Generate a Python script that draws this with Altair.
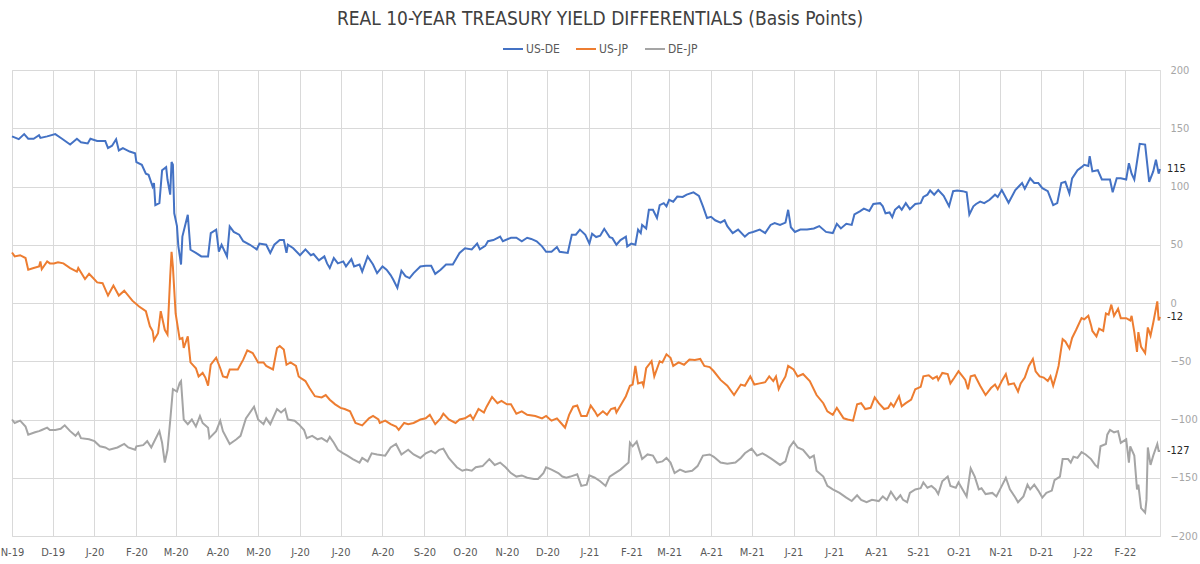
import altair as alt
import pandas as pd

SERIES = ["US-DE", "US-JP", "DE-JP"]
COLORS = ["#4472C4", "#ED7D31", "#A5A5A5"]
TITLE = "REAL 10-YEAR TREASURY YIELD DIFFERENTIALS (Basis Points)"
Y_TICKS = [-200, -150, -100, -50, 0, 50, 100, 150, 200]

US_DE = [
    ("2019-11-01", 143), ("2019-11-06", 140.6), ("2019-11-10", 145), ("2019-11-13", 141),
    ("2019-11-17", 141), ("2019-11-21", 144), ("2019-11-22", 141.7), ("2019-11-27", 143),
    ("2019-12-03", 145), ("2019-12-08", 141), ("2019-12-14", 136), ("2019-12-19", 141),
    ("2019-12-22", 138), ("2019-12-27", 137), ("2019-12-29", 141), ("2020-01-03", 139),
    ("2020-01-09", 139), ("2020-01-11", 133), ("2020-01-14", 135), ("2020-01-17", 140.6),
    ("2020-01-19", 131), ("2020-01-22", 133), ("2020-01-27", 130), ("2020-01-31", 128.6),
    ("2020-02-01", 121), ("2020-02-05", 118.6), ("2020-02-08", 111), ("2020-02-10", 110),
    ("2020-02-13", 100), ("2020-02-14", 103), ("2020-02-15", 84), ("2020-02-18", 85.7),
    ("2020-02-20", 114), ("2020-02-23", 116.6), ("2020-02-24", 106), ("2020-02-26", 93),
    ("2020-02-27", 121), ("2020-02-28", 118.6), ("2020-02-29", 77), ("2020-03-02", 66),
    ("2020-03-03", 49), ("2020-03-05", 33), ("2020-03-06", 57), ("2020-03-10", 75.7),
    ("2020-03-12", 45.7), ("2020-03-16", 43), ("2020-03-20", 40), ("2020-03-25", 40),
    ("2020-03-27", 60), ("2020-03-31", 63), ("2020-04-02", 44), ("2020-04-04", 50),
    ("2020-04-08", 40), ("2020-04-10", 65.7), ("2020-04-13", 61), ("2020-04-17", 58.6),
    ("2020-04-20", 53), ("2020-04-25", 50), ("2020-04-30", 46), ("2020-05-02", 51),
    ("2020-05-07", 50), ("2020-05-10", 43), ("2020-05-13", 50), ("2020-05-17", 54),
    ("2020-05-20", 54), ("2020-05-22", 43), ("2020-05-23", 50), ("2020-05-27", 47),
    ("2020-06-01", 41), ("2020-06-05", 46), ("2020-06-09", 41), ("2020-06-11", 42),
    ("2020-06-15", 36.6), ("2020-06-19", 40), ("2020-06-21", 34), ("2020-06-23", 30),
    ("2020-06-26", 38.6), ("2020-06-29", 34), ("2020-07-03", 35.7), ("2020-07-05", 31.4),
    ("2020-07-09", 37.7), ("2020-07-11", 31.4), ("2020-07-15", 33), ("2020-07-17", 27),
    ("2020-07-21", 40), ("2020-07-25", 33), ("2020-07-28", 25.7), ("2020-08-01", 31.4),
    ("2020-08-04", 28.6), ("2020-08-07", 24), ("2020-08-09", 20), ("2020-08-12", 13),
    ("2020-08-15", 27.7), ("2020-08-18", 23), ("2020-08-21", 21.4), ("2020-08-24", 25.7),
    ("2020-08-29", 31.4), ("2020-09-02", 32), ("2020-09-06", 32), ("2020-09-09", 25),
    ("2020-09-13", 28.6), ("2020-09-17", 33), ("2020-09-22", 33), ("2020-09-27", 43),
    ("2020-10-01", 47), ("2020-10-06", 46), ("2020-10-10", 51), ("2020-10-12", 46),
    ("2020-10-16", 49), ("2020-10-18", 53), ("2020-10-22", 54), ("2020-10-27", 57),
    ("2020-10-29", 53), ("2020-11-04", 56), ("2020-11-08", 56), ("2020-11-12", 53),
    ("2020-11-16", 56), ("2020-11-19", 55), ("2020-11-23", 53), ("2020-11-27", 48.6),
    ("2020-11-30", 44), ("2020-12-04", 44), ("2020-12-08", 48), ("2020-12-10", 44),
    ("2020-12-16", 43), ("2020-12-19", 58.6), ("2020-12-22", 58.6), ("2020-12-25", 63),
    ("2020-12-29", 58.6), ("2021-01-01", 51), ("2021-01-03", 59.4), ("2021-01-06", 56.6),
    ("2021-01-09", 57.7), ("2021-01-12", 63.7), ("2021-01-16", 56.6), ("2021-01-18", 55.7),
    ("2021-01-21", 50), ("2021-01-24", 54), ("2021-01-28", 57), ("2021-01-29", 48.6),
    ("2021-02-01", 51), ("2021-02-04", 50), ("2021-02-06", 63), ("2021-02-08", 60),
    ("2021-02-09", 67), ("2021-02-12", 64), ("2021-02-14", 80), ("2021-02-17", 80),
    ("2021-02-20", 73), ("2021-02-22", 84), ("2021-02-25", 85.7), ("2021-02-27", 83),
    ("2021-03-01", 88.6), ("2021-03-04", 87), ("2021-03-07", 91.4), ("2021-03-11", 91),
    ("2021-03-14", 93), ("2021-03-19", 95), ("2021-03-23", 92), ("2021-03-26", 83),
    ("2021-03-29", 73), ("2021-04-01", 74), ("2021-04-04", 71), ("2021-04-08", 69),
    ("2021-04-11", 71), ("2021-04-13", 66), ("2021-04-17", 60), ("2021-04-21", 63),
    ("2021-04-26", 57), ("2021-04-29", 60), ("2021-05-02", 61), ("2021-05-07", 63),
    ("2021-05-11", 60), ("2021-05-15", 67), ("2021-05-18", 68.6), ("2021-05-22", 67),
    ("2021-05-26", 69), ("2021-05-28", 80), ("2021-05-30", 65), ("2021-06-02", 61),
    ("2021-06-06", 63), ("2021-06-11", 63), ("2021-06-16", 64), ("2021-06-20", 66),
    ("2021-06-25", 61), ("2021-06-30", 60), ("2021-07-03", 68), ("2021-07-06", 64),
    ("2021-07-10", 68), ("2021-07-14", 67), ("2021-07-16", 76), ("2021-07-20", 78.6),
    ("2021-07-23", 81), ("2021-07-27", 79), ("2021-07-30", 85), ("2021-08-04", 85.7),
    ("2021-08-06", 83), ("2021-08-08", 77), ("2021-08-11", 77.7), ("2021-08-13", 73.7),
    ("2021-08-15", 80), ("2021-08-18", 83), ("2021-08-20", 80), ("2021-08-23", 85.7),
    ("2021-08-26", 80.6), ("2021-08-30", 85), ("2021-09-03", 85.7), ("2021-09-05", 91),
    ("2021-09-08", 93), ("2021-09-10", 96.6), ("2021-09-13", 93), ("2021-09-16", 97),
    ("2021-09-20", 92), ("2021-09-24", 83), ("2021-09-27", 96), ("2021-09-30", 96.6),
    ("2021-10-04", 96), ("2021-10-07", 95), ("2021-10-09", 76), ("2021-10-12", 83),
    ("2021-10-14", 85), ("2021-10-17", 87), ("2021-10-20", 85.7), ("2021-10-24", 88.6),
    ("2021-10-28", 93), ("2021-10-30", 91), ("2021-11-02", 97), ("2021-11-07", 86),
    ("2021-11-12", 97), ("2021-11-14", 99.4), ("2021-11-17", 103), ("2021-11-19", 98),
    ("2021-11-23", 107), ("2021-11-26", 103), ("2021-11-29", 103), ("2021-12-02", 98.6),
    ("2021-12-06", 96), ("2021-12-10", 84), ("2021-12-13", 85.7), ("2021-12-16", 103),
    ("2021-12-19", 104), ("2021-12-22", 94), ("2021-12-24", 107), ("2021-12-28", 114),
    ("2021-12-31", 116.6), ("2022-01-02", 118.6), ("2022-01-05", 117.7), ("2022-01-06", 126),
    ("2022-01-08", 113), ("2022-01-12", 114), ("2022-01-15", 106), ("2022-01-18", 106),
    ("2022-01-21", 106), ("2022-01-23", 95), ("2022-01-26", 107), ("2022-01-29", 107),
    ("2022-02-02", 106), ("2022-02-04", 120), ("2022-02-06", 111), ("2022-02-08", 106),
    ("2022-02-12", 136.6), ("2022-02-16", 136), ("2022-02-19", 104), ("2022-02-22", 113),
    ("2022-02-24", 123), ("2022-02-26", 111), ("2022-02-27", 115),
]

US_JP = [
    ("2019-11-01", 43.4), ("2019-11-03", 40), ("2019-11-07", 41), ("2019-11-11", 38.6),
    ("2019-11-13", 28.6), ("2019-11-17", 30), ("2019-11-21", 31.4), ("2019-11-22", 35.7),
    ("2019-11-23", 29), ("2019-11-27", 35.7), ("2019-11-29", 34), ("2019-12-02", 34),
    ("2019-12-05", 35), ("2019-12-09", 34), ("2019-12-14", 30), ("2019-12-19", 27),
    ("2019-12-20", 30), ("2019-12-25", 20.6), ("2019-12-28", 25), ("2019-12-31", 21.4),
    ("2020-01-03", 17.7), ("2020-01-07", 17), ("2020-01-11", 6.4), ("2020-01-15", 15),
    ("2020-01-19", 6.4), ("2020-01-23", 10.6), ("2020-01-29", 2), ("2020-02-03", -3),
    ("2020-02-08", -7), ("2020-02-11", -20), ("2020-02-13", -24), ("2020-02-14", -32),
    ("2020-02-17", -26), ("2020-02-19", -7), ("2020-02-22", -23), ("2020-02-24", -27),
    ("2020-02-26", 23), ("2020-02-27", 44), ("2020-02-28", 31), ("2020-03-01", -9),
    ("2020-03-04", -31), ("2020-03-06", -30), ("2020-03-07", -38.6), ("2020-03-10", -28.6),
    ("2020-03-12", -51), ("2020-03-16", -56), ("2020-03-18", -63), ("2020-03-21", -60),
    ("2020-03-23", -64), ("2020-03-25", -71), ("2020-03-27", -53), ("2020-03-31", -47),
    ("2020-04-03", -56), ("2020-04-05", -63), ("2020-04-08", -64), ("2020-04-10", -57),
    ("2020-04-16", -57), ("2020-04-20", -48.6), ("2020-04-23", -40.6), ("2020-04-27", -43),
    ("2020-05-01", -51), ("2020-05-05", -51), ("2020-05-07", -54), ("2020-05-12", -57),
    ("2020-05-15", -38.6), ("2020-05-17", -37), ("2020-05-20", -40), ("2020-05-22", -53),
    ("2020-05-25", -51), ("2020-05-29", -54), ("2020-05-31", -63), ("2020-06-01", -64),
    ("2020-06-05", -67), ("2020-06-08", -73), ("2020-06-12", -80), ("2020-06-17", -81),
    ("2020-06-20", -79), ("2020-06-23", -83), ("2020-06-27", -87), ("2020-07-01", -90),
    ("2020-07-04", -91), ("2020-07-08", -93), ("2020-07-12", -103), ("2020-07-17", -105),
    ("2020-07-22", -99), ("2020-07-25", -97), ("2020-07-29", -100), ("2020-07-30", -103),
    ("2020-08-03", -101), ("2020-08-07", -104), ("2020-08-11", -106), ("2020-08-13", -109),
    ("2020-08-17", -103), ("2020-08-20", -104), ("2020-08-24", -103), ("2020-08-29", -100),
    ("2020-09-02", -99), ("2020-09-05", -96), ("2020-09-09", -104), ("2020-09-13", -99),
    ("2020-09-15", -95), ("2020-09-19", -100), ("2020-09-24", -103), ("2020-09-27", -100),
    ("2020-10-01", -99), ("2020-10-05", -96), ("2020-10-07", -100), ("2020-10-11", -91),
    ("2020-10-15", -94), ("2020-10-17", -89), ("2020-10-21", -80.6), ("2020-10-25", -86),
    ("2020-10-28", -84), ("2020-11-01", -87), ("2020-11-04", -87), ("2020-11-08", -95),
    ("2020-11-12", -93), ("2020-11-16", -96), ("2020-11-22", -97), ("2020-11-27", -99),
    ("2020-11-30", -97), ("2020-12-04", -101), ("2020-12-08", -99), ("2020-12-11", -103),
    ("2020-12-14", -107), ("2020-12-17", -96), ("2020-12-20", -89), ("2020-12-23", -88),
    ("2020-12-26", -97), ("2020-12-30", -97), ("2021-01-02", -88), ("2021-01-05", -93),
    ("2021-01-07", -97), ("2021-01-11", -93), ("2021-01-14", -96), ("2021-01-17", -91),
    ("2021-01-20", -90), ("2021-01-21", -94), ("2021-01-25", -86), ("2021-01-28", -80),
    ("2021-01-31", -71), ("2021-02-02", -70), ("2021-02-04", -54), ("2021-02-06", -69),
    ("2021-02-09", -68), ("2021-02-10", -71), ("2021-02-12", -56), ("2021-02-16", -50),
    ("2021-02-18", -63), ("2021-02-22", -50), ("2021-02-24", -51), ("2021-02-27", -44),
    ("2021-03-02", -47), ("2021-03-04", -54), ("2021-03-08", -51), ("2021-03-12", -53),
    ("2021-03-16", -48.6), ("2021-03-20", -49), ("2021-03-24", -48), ("2021-03-27", -54),
    ("2021-03-31", -55), ("2021-04-03", -58.6), ("2021-04-08", -66), ("2021-04-13", -71),
    ("2021-04-18", -79), ("2021-04-23", -70), ("2021-04-26", -71), ("2021-04-30", -63),
    ("2021-05-03", -70), ("2021-05-07", -69), ("2021-05-11", -68), ("2021-05-14", -63),
    ("2021-05-17", -67), ("2021-05-19", -63), ("2021-05-21", -74), ("2021-05-23", -69),
    ("2021-05-26", -63), ("2021-05-28", -54), ("2021-06-01", -57), ("2021-06-04", -63),
    ("2021-06-08", -61), ("2021-06-13", -67), ("2021-06-18", -79), ("2021-06-23", -86),
    ("2021-06-26", -93), ("2021-06-30", -96), ("2021-07-03", -90), ("2021-07-08", -99),
    ("2021-07-11", -100), ("2021-07-15", -101), ("2021-07-18", -87), ("2021-07-21", -86),
    ("2021-07-24", -91), ("2021-07-28", -90), ("2021-07-31", -81), ("2021-08-03", -86),
    ("2021-08-07", -91), ("2021-08-10", -90), ("2021-08-12", -86), ("2021-08-14", -89),
    ("2021-08-18", -80), ("2021-08-20", -88.6), ("2021-08-23", -86), ("2021-08-27", -83),
    ("2021-08-30", -74), ("2021-09-03", -72), ("2021-09-05", -63), ("2021-09-09", -62),
    ("2021-09-12", -65), ("2021-09-15", -63), ("2021-09-16", -66), ("2021-09-19", -60),
    ("2021-09-23", -61), ("2021-09-25", -69), ("2021-09-28", -64), ("2021-10-01", -58.6),
    ("2021-10-04", -63), ("2021-10-06", -66), ("2021-10-08", -74), ("2021-10-10", -63),
    ("2021-10-13", -62), ("2021-10-17", -71), ("2021-10-21", -79), ("2021-10-25", -73),
    ("2021-10-28", -70), ("2021-10-30", -74), ("2021-11-02", -67), ("2021-11-05", -61),
    ("2021-11-07", -70), ("2021-11-11", -69), ("2021-11-14", -76), ("2021-11-16", -69),
    ("2021-11-19", -64), ("2021-11-22", -54), ("2021-11-25", -48), ("2021-11-27", -58.6),
    ("2021-11-30", -63), ("2021-12-03", -64), ("2021-12-06", -67), ("2021-12-08", -63),
    ("2021-12-10", -71), ("2021-12-12", -63), ("2021-12-14", -54), ("2021-12-17", -31),
    ("2021-12-19", -33), ("2021-12-22", -39), ("2021-12-24", -30), ("2021-12-27", -23),
    ("2021-12-31", -13), ("2022-01-02", -14), ("2022-01-05", -11), ("2022-01-07", -19),
    ("2022-01-08", -24), ("2022-01-11", -28.6), ("2022-01-13", -22), ("2022-01-16", -24),
    ("2022-01-18", -9), ("2022-01-20", -10), ("2022-01-22", -1.4), ("2022-01-24", -11),
    ("2022-01-27", -5), ("2022-01-29", -13), ("2022-02-02", -13), ("2022-02-05", -15),
    ("2022-02-06", -11), ("2022-02-08", -25), ("2022-02-10", -42), ("2022-02-11", -25),
    ("2022-02-13", -37.7), ("2022-02-16", -43), ("2022-02-18", -21), ("2022-02-20", -28),
    ("2022-02-22", -17), ("2022-02-25", 1.4), ("2022-02-26", -15), ("2022-02-27", -12),
]

DE_JP = [
    ("2019-11-01", -100), ("2019-11-03", -103), ("2019-11-07", -101), ("2019-11-11", -106),
    ("2019-11-13", -113), ("2019-11-18", -111), ("2019-11-21", -110), ("2019-11-23", -109),
    ("2019-11-27", -107), ("2019-11-29", -109), ("2019-12-03", -109), ("2019-12-07", -108),
    ("2019-12-10", -105), ("2019-12-14", -110), ("2019-12-18", -114), ("2019-12-20", -111),
    ("2019-12-22", -116), ("2019-12-28", -117), ("2020-01-01", -118.6), ("2020-01-05", -123),
    ("2020-01-09", -124), ("2020-01-12", -126), ("2020-01-18", -124), ("2020-01-23", -121),
    ("2020-01-26", -124), ("2020-01-31", -126), ("2020-02-01", -123), ("2020-02-06", -122),
    ("2020-02-09", -118.6), ("2020-02-12", -124), ("2020-02-15", -117), ("2020-02-18", -110),
    ("2020-02-20", -120), ("2020-02-22", -137), ("2020-02-24", -126), ("2020-02-26", -101),
    ("2020-02-28", -74), ("2020-03-02", -76), ("2020-03-04", -68.6), ("2020-03-05", -67),
    ("2020-03-07", -100), ("2020-03-10", -104), ("2020-03-13", -100), ("2020-03-16", -106),
    ("2020-03-19", -97), ("2020-03-21", -103), ("2020-03-25", -107), ("2020-03-26", -116),
    ("2020-03-31", -110), ("2020-04-03", -101), ("2020-04-05", -110), ("2020-04-10", -121),
    ("2020-04-15", -117), ("2020-04-18", -114), ("2020-04-22", -99), ("2020-04-28", -89),
    ("2020-05-01", -100), ("2020-05-05", -104), ("2020-05-07", -99), ("2020-05-10", -104),
    ("2020-05-15", -91), ("2020-05-18", -94), ("2020-05-21", -91), ("2020-05-23", -100),
    ("2020-05-28", -101), ("2020-05-31", -104), ("2020-06-04", -109), ("2020-06-06", -116),
    ("2020-06-10", -114), ("2020-06-14", -117), ("2020-06-17", -116), ("2020-06-21", -119),
    ("2020-06-23", -115), ("2020-06-26", -120), ("2020-06-29", -126), ("2020-07-03", -129),
    ("2020-07-06", -131), ("2020-07-10", -134), ("2020-07-15", -137), ("2020-07-17", -133),
    ("2020-07-21", -136), ("2020-07-24", -129), ("2020-07-28", -130), ("2020-08-03", -131),
    ("2020-08-07", -124), ("2020-08-11", -121), ("2020-08-15", -130), ("2020-08-20", -126),
    ("2020-08-24", -130), ("2020-08-29", -133), ("2020-09-02", -129), ("2020-09-06", -127),
    ("2020-09-09", -129), ("2020-09-12", -126), ("2020-09-15", -125), ("2020-09-19", -133),
    ("2020-09-22", -137), ("2020-09-25", -141), ("2020-09-29", -144), ("2020-10-02", -143),
    ("2020-10-06", -144), ("2020-10-09", -141), ("2020-10-14", -140), ("2020-10-19", -134),
    ("2020-10-23", -139), ("2020-10-27", -137), ("2020-10-31", -141), ("2020-11-04", -146),
    ("2020-11-08", -149), ("2020-11-12", -148), ("2020-11-16", -150), ("2020-11-21", -151),
    ("2020-11-24", -151), ("2020-11-28", -146), ("2020-11-30", -141), ("2020-12-04", -143),
    ("2020-12-09", -146), ("2020-12-12", -149), ("2020-12-15", -150), ("2020-12-18", -149),
    ("2020-12-23", -147), ("2020-12-26", -157), ("2020-12-30", -156), ("2021-01-01", -148),
    ("2021-01-05", -150), ("2021-01-09", -153), ("2021-01-13", -157), ("2021-01-16", -149),
    ("2021-01-20", -146), ("2021-01-24", -143), ("2021-01-27", -140), ("2021-01-30", -137),
    ("2021-01-31", -120), ("2021-02-02", -123), ("2021-02-05", -119), ("2021-02-09", -134),
    ("2021-02-13", -130), ("2021-02-17", -131), ("2021-02-20", -137), ("2021-02-24", -136),
    ("2021-02-27", -133), ("2021-03-02", -137), ("2021-03-05", -146), ("2021-03-09", -143),
    ("2021-03-13", -145), ("2021-03-18", -144), ("2021-03-22", -140), ("2021-03-26", -131),
    ("2021-03-31", -130), ("2021-04-03", -132), ("2021-04-08", -137), ("2021-04-13", -138),
    ("2021-04-19", -137), ("2021-04-23", -133), ("2021-04-26", -129), ("2021-05-01", -125),
    ("2021-05-05", -131), ("2021-05-09", -129), ("2021-05-12", -131), ("2021-05-16", -134),
    ("2021-05-22", -139), ("2021-05-26", -136), ("2021-05-29", -124), ("2021-06-01", -119),
    ("2021-06-04", -124), ("2021-06-08", -126), ("2021-06-13", -133), ("2021-06-16", -131),
    ("2021-06-18", -144), ("2021-06-23", -149), ("2021-06-26", -157), ("2021-06-30", -160),
    ("2021-07-05", -163), ("2021-07-10", -167), ("2021-07-14", -170), ("2021-07-18", -165),
    ("2021-07-21", -169), ("2021-07-25", -171), ("2021-07-29", -169), ("2021-08-03", -170),
    ("2021-08-06", -166), ("2021-08-09", -169), ("2021-08-12", -162), ("2021-08-16", -169),
    ("2021-08-19", -165), ("2021-08-21", -169), ("2021-08-24", -171), ("2021-08-26", -163),
    ("2021-08-30", -160), ("2021-09-03", -159), ("2021-09-05", -154), ("2021-09-08", -158.6),
    ("2021-09-11", -157), ("2021-09-14", -160), ("2021-09-16", -164), ("2021-09-19", -153),
    ("2021-09-23", -149), ("2021-09-25", -157), ("2021-09-29", -158.6), ("2021-10-01", -154),
    ("2021-10-04", -160), ("2021-10-07", -166), ("2021-10-10", -142), ("2021-10-13", -149),
    ("2021-10-16", -160), ("2021-10-18", -159), ("2021-10-21", -164), ("2021-10-26", -163),
    ("2021-10-29", -166), ("2021-11-02", -157), ("2021-11-05", -150), ("2021-11-08", -160),
    ("2021-11-12", -167), ("2021-11-14", -171), ("2021-11-18", -166), ("2021-11-21", -156),
    ("2021-11-23", -160), ("2021-11-26", -156), ("2021-11-29", -161), ("2021-12-02", -167),
    ("2021-12-05", -163), ("2021-12-09", -161), ("2021-12-11", -152), ("2021-12-15", -149),
    ("2021-12-17", -134), ("2021-12-21", -134), ("2021-12-23", -137), ("2021-12-25", -132),
    ("2021-12-28", -133), ("2021-12-31", -128), ("2022-01-03", -130), ("2022-01-07", -134),
    ("2022-01-10", -139), ("2022-01-12", -141), ("2022-01-14", -123), ("2022-01-18", -121),
    ("2022-01-19", -113), ("2022-01-21", -109), ("2022-01-24", -111), ("2022-01-27", -110),
    ("2022-01-29", -120), ("2022-02-02", -117), ("2022-02-04", -137), ("2022-02-05", -123),
    ("2022-02-08", -131), ("2022-02-10", -160), ("2022-02-11", -156), ("2022-02-13", -176),
    ("2022-02-16", -180), ("2022-02-17", -169), ("2022-02-18", -124), ("2022-02-20", -139),
    ("2022-02-22", -131), ("2022-02-25", -121), ("2022-02-26", -127), ("2022-02-27", -127),
]

rows = []
for name, pts in zip(SERIES, [US_DE, US_JP, DE_JP]):
    for d, v in pts:
        rows.append({"date": d, "value": v, "series": name})
df = pd.DataFrame(rows)

last = pd.DataFrame([
    {"date": pts[-1][0], "value": pts[-1][1], "series": name, "label": str(round(pts[-1][1]))}
    for name, pts in zip(SERIES, [US_DE, US_JP, DE_JP])
])

FONT = "Liberation Sans Narrow, DejaVu Sans Condensed, Roboto, sans-serif"

x_enc = alt.X(
    "date:T",
    scale=alt.Scale(
        type="utc",
        domain=[alt.DateTime(year=2019, month=11, date=1, utc=True),
                alt.DateTime(year=2022, month=2, date=27, utc=True)],
        nice=False,
    ),
    axis=alt.Axis(
        title=None,
        tickCount={"interval": "month", "step": 1},
        labelExpr="substring(utcFormat(datum.value, '%b'), 0, 1) + '-' + utcFormat(datum.value, '%y')",
        grid=True, gridColor="#d9d9d9", gridWidth=1,
        ticks=False, domain=False,
        labelColor="#595959", labelFontSize=11, labelFont=FONT,
        labelPadding=10, labelOverlap=False, labelFlush=False, labelBound=False,
    ),
)

y_enc = alt.Y(
    "value:Q",
    scale=alt.Scale(domain=[-200, 200], nice=False),
    axis=alt.Axis(
        title=None, orient="right", values=Y_TICKS,
        grid=True, gridColor="#d9d9d9", gridWidth=1,
        ticks=False, domain=False,
        labelColor="#a6a6a6", labelFontSize=11, labelFont=FONT,
        labelPadding=10, labelAlign="left",
    ),
)

color_enc = alt.Color(
    "series:N",
    scale=alt.Scale(domain=SERIES, range=COLORS),
    legend=alt.Legend(
        title=None, orient="none", direction="horizontal",
        legendX=490, legendY=-32, padding=0,
        symbolType="stroke", symbolSize=400, symbolStrokeWidth=2,
        labelFont=FONT, labelFontSize=12, labelColor="#595959",
        labelOffset=2, columnPadding=12,
    ),
)

lines = alt.Chart(df).mark_line(strokeWidth=2).encode(
    x=x_enc, y=y_enc, color=color_enc,
)

labels = alt.Chart(last).mark_text(
    align="left", baseline="middle", dx=7, fontSize=11, font=FONT, color="#262626",
).encode(
    x=alt.X("date:T", scale=alt.Scale(type="utc")),
    y="value:Q",
    text="label:N",
)

chart = alt.layer(lines, labels).properties(
    width=1148,
    height=466,
    autosize="none",
    padding={"left": 12, "top": 70, "right": 40, "bottom": 28},
    title=alt.TitleParams(
        TITLE, font=FONT, fontSize=19, fontWeight="normal", color="#404040",
        anchor="middle", frame="group", dx=14, offset=9,
    ),
).configure_view(stroke=None).configure(background="white")

chart.save("out.html", embed_options={"renderer": "svg", "actions": False})
